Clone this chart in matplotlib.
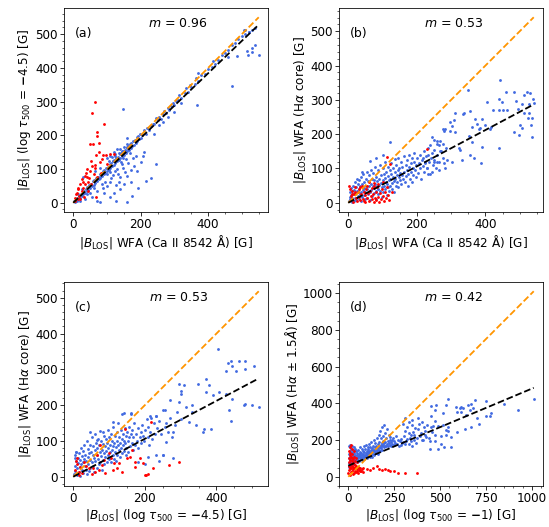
import numpy as np
import matplotlib
matplotlib.use("Agg")
import matplotlib.pyplot as plt
from matplotlib.ticker import AutoMinorLocator

plt.rcParams['font.family'] = ['DejaVu Sans']
plt.rcParams['font.size'] = 12
plt.rcParams['mathtext.default'] = 'it'

BLUE = '#4169E1'
RED = '#FF0000'
ORANGE = '#FF9500'

# ---------------- Panel (a) ----------------
a_blue = [(3,5),(6,2),(8,11),(10,6),(12,15),(15,11),(18,21),(20,15),(22,26),(25,21),(28,31),(30,25),(32,36),(35,29),
          (38,41),(40,35),(42,46),(45,39),(48,53),(50,44),(52,56),(55,49),(58,63),(60,54),(62,66),(65,58),(68,73),(70,64),
          (72,77),(75,69),(78,84),(80,74),(82,86),(85,78),(88,93),(90,84),(92,97),(95,88),(98,104),(100,94),(102,107),(105,98),
          (108,114),(110,103),(112,117),(115,108),(118,124),(120,113),(122,127),(125,118),(128,134),(130,123),(132,137),(135,128),
          (138,144),(140,133),(142,147),(145,138),(148,154),(150,143),(152,157),(155,148),(158,164),(160,152),(162,167),(165,157),
          (168,173),(170,163),(172,177),(175,168),(178,184),(180,172),(182,187),(185,178),(188,194),(190,183),(192,197),(195,188),
          (198,204),(200,193),(105,125),(115,135),(125,140),(135,147),(145,152),(120,150),(110,140),(130,160),(150,165),(160,175),
          (217,65),(192,45),(173,21),(158,1),(128,6),(109,16),(79,1),(70,6),(55,16),(89,45),(109,60),(124,94),(133,85),(138,75),
          (148,104),(119,124),(99,85),(79,75),(60,45),(40,26),(177,134),(207,139),(148,134),(168,148),(139,158),(158,163),(124,144),
          (99,134),(79,104),(65,94),(30,75),(120,30),(140,40),(150,55),(160,80),(100,50),(90,30),(70,35),(180,110),(200,120),
          (190,95),(210,150),(230,72),(244,116),(170,60),(110,90),(145,115),(130,100),(50,30),(35,10),(20,5),(15,25),(25,40),
          (205,200),(210,215),(215,205),(220,222),(225,216),(230,228),(235,232),(240,234),(245,250),(250,244),(255,255),(260,249),
          (265,262),(270,271),(275,266),(280,282),(285,274),(290,288),(295,297),(300,291),(305,303),(310,304),(315,319),(320,311),
          (330,324),(335,341),(340,329),(345,349),(350,344),(360,353),(365,369),(370,361),(380,378),(390,383),(400,398),(410,404),
          (415,419),(420,411),(430,423),(440,437),(450,444),(460,453),(470,467),(480,473),(490,487),(500,494),(505,511),(510,500),
          (520,507),(530,513),(540,519),(146,277),(158,193),(371,384),(366,291),(471,345),(460,432),(487,434),(516,451),(530,458),
          (540,468),(519,439),(550,439),(530,446),(520,505),(510,512),(255,230),(280,255),(300,270),(320,295),(240,205),(265,240),
          (113,72),(127,52),(137,62),(153,90),(163,118),(172,96),(185,140),(95,62),(85,55),(118,82),(142,122),(155,130)]
a_red = [(64,299),(56,266),(91,234),(69,210),(69,199),(50,173),(58,175),(75,176),(75,151),(68,142),(89,141),(84,131),
         (96,142),(52,124),(64,112),(65,104),(50,94),(38,89),(36,80),(42,77),(47,73),(28,60),(21,55),(13,40),(8,26),(18,21),
         (27,35),(13,11),(32,16),(67,16),(52,55),(71,75),(81,89),(101,114),(110,144),(120,144),(5,15),(10,30),(20,10),(30,45),
         (45,60),(60,85),(40,100),(55,110),(80,120),(25,70),(35,55),(15,45),(6,5),(45,35)]
a_m, a_c = 0.96, 0.0

# ---------------- Panel (b) ----------------
b_blue = [(2,5),(4,18),(5,30),(6,10),(8,42),(9,22),(10,3),(11,35),(12,14),(14,50),(15,25),(16,6),(18,38),(19,60),(20,15),
          (21,28),(22,45),(24,8),(25,70),(26,33),(27,20),(28,55),(30,12),(31,40),(32,65),(33,25),(35,48),(36,5),(37,30),(38,75),
          (40,18),(41,55),(42,38),(44,85),(45,22),(46,60),(47,44),(48,10),(50,32),(51,68),(52,50),(54,15),(55,90),(56,40),(57,25),
          (58,62),(60,48),(61,80),(62,30),(63,8),(65,55),(66,95),(67,38),(68,70),(70,20),(71,50),(72,88),(74,42),(75,65),(76,28),
          (77,105),(78,55),(80,35),(81,75),(82,12),(83,48),(85,62),(86,95),(87,40),(88,25),(90,70),(91,52),(92,110),(93,35),(95,80),
          (96,58),(97,18),(98,45),(100,65),(101,100),(102,30),(103,85),(105,50),(106,72),(107,120),(108,40),(110,60),(111,90),
          (112,22),(113,55),(115,78),(116,105),(117,45),(118,65),(120,35),(121,95),(122,70),(123,50),(125,85),(126,115),(127,58),
          (128,40),(130,75),(131,100),(132,62),(133,30),(135,90),(136,128),(137,70),(138,50),(140,110),(141,80),(142,60),(144,95),
          (145,45),(146,130),(147,75),(148,100),(150,65),(152,88),(153,120),(155,55),(156,80),(158,105),(160,70),(162,135),(163,90),
          (165,60),(167,110),(168,78),(170,125),(172,95),(173,50),(175,85),(177,140),(178,105),(180,70),(182,115),(184,90),(185,130),
          (187,60),(188,100),(190,80),(192,145),(193,120),(195,95),(197,75),(198,110),(200,130),(202,88),(205,115),(208,140),(210,100),
          (212,70),(215,125),(218,108),(220,150),(222,90),(225,120),(228,135),(230,100),(233,160),(235,118),(238,85),(240,130),
          (245,145),(248,110),(250,125),(255,100),(258,170),(260,140),(265,118),(270,150),(275,130),(280,210),(285,160),(122,178),
          (62,122),(80,130),(100,140),(40,90),
          (444,358),(348,328),(461,323),(482,322),(522,323),(530,319),(512,313),(539,302),(541,291),(488,296),(449,295),(439,304),
          (405,295),(422,270),(439,271),(451,270),(464,271),(508,288),(527,288),(527,262),(512,263),(494,274),(525,247),(537,247),
          (502,227),(532,227),(507,217),(483,207),(497,197),(537,192),(439,159),(386,115),(356,140),(366,130),(337,262),(356,267),
          (312,262),(334,259),(307,240),(297,235),(283,215),(297,210),(275,215),(302,225),(312,205),(371,245),(390,243),(417,222),
          (400,226),(385,219),(412,214),(376,231),(380,214),(361,222),(351,194),(361,178),(390,163),(327,154),(322,159),(332,125),
          (303,120),(288,125),(281,100),(264,95),(278,115),(259,120),(249,120),(244,90),(234,85),(229,100),(224,115),(219,130),
          (234,140),(249,154),(264,169),(276,170),(268,150),(249,184),(239,169),(244,191),(258,179),(268,179)]
b_red = [(3,48),(5,40),(8,20),(10,10),(12,35),(15,2),(18,25),(20,45),(22,15),(25,5),(28,30),(30,18),(32,40),(35,8),(38,25),
         (40,50),(42,12),(45,32),(48,3),(50,22),(52,40),(55,15),(58,28),(60,5),(62,35),(65,20),(68,10),(70,42),(72,25),(75,3),
         (78,15),(80,30),(82,8),(85,45),(88,18),(90,2),(92,28),(95,12),(98,40),(100,20),(105,5),(108,32),(110,14),(112,45),(115,22),
         (112,134),(120,8),(122,112),(128,30),(76,58),(100,60),(60,60),(229,156),(20,30),(35,45),(10,25),(75,50),(45,5),(55,48),(88,55)]
b_m, b_c = 0.53, 0.0

# ---------------- Panel (c) ----------------
c_blue = [(2,8),(4,30),(5,60),(6,15),(8,45),(9,70),(10,5),(11,25),(12,52),(14,38),(15,12),(16,65),(18,28),(19,48),(20,3),
          (21,80),(22,35),(24,58),(25,18),(26,42),(27,72),(28,10),(30,50),(31,90),(32,30),(33,62),(35,20),(36,45),(37,100),(38,8),
          (40,55),(41,78),(42,35),(44,65),(45,15),(46,88),(47,48),(48,25),(50,70),(51,110),(52,40),(54,60),(55,30),(56,85),(57,52),
          (58,12),(60,75),(61,120),(62,45),(63,95),(65,62),(66,25),(67,80),(68,105),(70,50),(71,35),(72,88),(74,68),(75,128),(76,42),
          (77,100),(78,58),(80,75),(81,20),(82,92),(83,48),(85,115),(86,65),(87,35),(88,85),(90,55),(91,105),(92,72),(93,42),(95,95),
          (96,60),(97,130),(98,80),(100,50),(101,110),(102,68),(103,90),(105,40),(106,120),(107,75),(108,100),(110,60),(111,85),
          (112,140),(113,50),(115,95),(116,70),(117,115),(118,45),(120,82),(121,125),(122,100),(123,62),(125,90),(126,150),(127,75),
          (128,110),(130,55),(131,95),(132,130),(133,80),(135,105),(136,65),(137,175),(138,118),(140,88),(141,100),(142,72),
          (144,135),(145,95),(146,60),(147,115),(148,80),(150,125),(152,100),(153,70),(155,140),(156,110),(158,85),(160,120),
          (162,178),(163,95),(165,130),(167,75),(168,110),(170,150),(172,90),(175,118),(177,100),(180,135),(182,80),(185,110),
          (188,125),(190,95),(192,145),(195,115),(198,100),(200,130),(205,160),(208,110),(210,140),(212,90),(215,125),(218,165),
          (220,105),(225,150),(228,120),(230,170),(235,135),(240,155),(245,120),(250,185),(255,140),(260,150),(265,125),(270,165),
          (275,110),(285,145),(290,180),(300,160),(180,40),(200,35),(210,55),(230,60),(240,45),(250,60),(142,179),(162,176),
          (111,153),(83,125),(65,102),(9,69),(5,51),(46,125),
          (405,358),(431,318),(440,324),(463,324),(479,322),(506,310),(444,310),(426,296),(454,296),(481,301),(370,273),(380,255),
          (370,236),(347,259),(310,255),(296,259),(301,231),(296,208),(269,213),(255,185),(231,171),(213,171),(389,227),(407,236),
          (426,231),(444,218),(481,204),(500,199),(518,194),(477,199),(435,185),(440,157),(384,134),(366,134),(361,125),(343,144),
          (324,153),(333,181),(315,194),(278,125),(259,97),(250,60),(278,51),(333,199),(301,240)]
c_red = [(144,132),(217,152),(11,51),(30,42),(20,28),(16,14),(44,23),(53,9),(62,14),(71,19),(81,32),(85,46),(104,51),(99,65),
         (113,37),(122,23),(136,14),(127,37),(150,51),(159,55),(164,74),(173,42),(173,28),(187,51),(196,37),(201,5),(210,9),
         (266,32),(296,42),(222,23),(204,5),(67,60),(76,88),(5,20),(10,35),(15,5),(25,10),(8,45),(35,30),(55,25),(90,10),(110,20)]
c_m, c_c = 0.53, 0.0

# ---------------- Panel (d) ----------------
d_blue = [(2,55),(3,100),(4,170),(5,75),(6,125),(7,160),(8,90),(9,140),(10,60),(11,115),(12,175),(13,80),(14,130),(15,95),
          (16,150),(17,65),(18,110),(20,85),(21,135),(22,165),(23,100),(25,72),(26,120),(27,145),(28,90),(30,110),(31,160),(32,78),
          (33,130),(35,100),(36,150),(37,85),(38,120),(40,95),(42,140),(44,110),(45,80),(46,130),(48,100),(50,118),(52,90),(54,145),
          (55,105),(56,125),(58,85),(60,115),(62,135),(64,100),(65,160),(66,120),(68,95),(70,130),(72,110),(74,150),(75,90),(76,120),
          (78,140),(80,105),(82,125),(84,170),(85,115),(86,95),(88,135),(90,120),(92,150),(94,105),(95,130),(96,175),(98,115),
          (100,140),(102,125),(104,100),(105,160),(106,135),(108,115),(110,150),(112,125),(114,180),(115,140),(116,110),(118,130),
          (120,160),(122,120),(124,145),(125,190),(126,130),(128,110),(130,155),(132,135),(134,170),(135,125),(136,145),(138,200),
          (140,140),(142,120),(144,160),(145,135),(146,185),(148,150),(150,130),(152,170),(154,145),(155,210),(156,160),(158,140),
          (160,180),(162,125),(164,155),(165,230),(166,170),(168,145),(170,190),(172,160),(174,250),(175,140),(176,175),(178,210),
          (180,155),(182,185),(184,165),(185,270),(186,145),(188,195),(190,175),(192,220),(194,160),(195,280),(196,185),(198,170),
          (200,240),(202,190),(205,165),(208,210),(210,180),(212,260),(215,195),(218,170),(220,225),(222,185),(225,200),(228,175),
          (230,215),(232,190),(235,165),(238,200),(240,180),(245,210),(248,175),(250,195),(255,185),(260,220),(265,180),(270,200),
          (275,170),(280,195),(285,175),(290,205),(295,185),(300,190),(310,178),(320,205),(330,180),(340,195),(350,170),(360,200),
          (370,185),
          (1011,422),(927,363),(848,395),(752,411),(692,421),(670,399),(652,390),(680,375),(661,363),(543,426),(534,390),(471,363),
          (480,390),(453,385),(516,348),(589,381),(607,375),(616,381),(625,372),(616,354),(592,354),(643,336),(703,318),(710,287),
          (667,269),(594,242),(634,258),(543,249),(534,228),(558,218),(562,164),(522,164),(507,177),(489,151),(475,195),(507,222),
          (471,225),(471,303),(462,276),(453,271),(457,246),(453,332),(489,277),(444,195),(444,151),(516,282),(543,273),(534,255),
          (770,332),(779,345),(752,330),(310,320),(330,300),(350,280),(380,260),(400,300),(420,250),(330,240),(360,230),(390,220),
          (410,200),(430,280),(310,250),(300,290),(320,270),(340,230),(380,320),(400,200),(420,230),(350,310),(440,210),(305,220),
          (315,195),(335,210),(355,245),(375,210),(395,240),(415,270),(425,215),(365,265),(385,290)]
d_red = [(1,20),(2,60),(3,100),(4,140),(5,35),(6,80),(7,120),(8,160),(9,50),(10,10),(11,90),(12,130),(13,70),(14,25),(15,110),
         (16,175),(17,45),(18,85),(19,150),(20,60),(21,30),(22,100),(23,125),(24,75),(25,15),(26,55),(27,95),(28,40),(29,140),
         (30,70),(31,20),(32,110),(33,50),(34,85),(35,30),(36,65),(38,45),(40,100),(42,25),(44,60),(46,40),(48,80),(50,30),(52,55),
         (55,20),(58,45),(60,35),(65,50),(70,30),(75,40),(80,25),(82,47),(100,43),(118,38),(136,47),(154,56),(199,43),(217,34),
         (230,29),(248,29),(272,23),(308,20),(375,20),(63,29),(165,40),(185,35)]
d_m, d_c = 0.42, 60.0

panels = [
    ("(a)", a_blue, a_red, a_m, a_c, r"$|B_{\rm LOS}|$ WFA (Ca II 8542 Å) [G]",
     r"$|B_{\rm LOS}|$ (log $\tau_{500}$ = $\mathbf{-}$4.5) [G]"),
    ("(b)", b_blue, b_red, b_m, b_c, r"$|B_{\rm LOS}|$ WFA (Ca II 8542 Å) [G]",
     r"$|B_{\rm LOS}|$ WFA (H$\alpha$ core) [G]"),
    ("(c)", c_blue, c_red, c_m, c_c, r"$|B_{\rm LOS}|$ (log $\tau_{500}$ = $\mathbf{-}$4.5) [G]",
     r"$|B_{\rm LOS}|$ WFA (H$\alpha$ core) [G]"),
    ("(d)", d_blue, d_red, d_m, d_c, r"$|B_{\rm LOS}|$ (log $\tau_{500}$ = $\mathbf{-}$1) [G]",
     r"$|B_{\rm LOS}|$ WFA (H$\alpha$ $\pm$ 1.5$\mathit{Å}$) [G]"),
]

W, H = 549, 527
fig = plt.figure(figsize=(W / 72, H / 72), dpi=72)
boxes = [(64, 8), (339, 8), (64, 282), (339, 282)]
aw, ah = 204, 204

for (tag, blue, red, m, c, xl, yl), (l, t) in zip(panels, boxes):
    ax = fig.add_axes([l / W, (H - t - ah) / H, aw / W, ah / H])
    bx, by = np.array(blue, float).T
    rx, ry = np.array(red, float).T
    ax.scatter(bx, by, s=8, c=BLUE, marker='o', linewidths=0, zorder=2)
    ax.scatter(rx, ry, s=8, c=RED, marker='o', linewidths=0, zorder=3)
    xmax = max(bx.max(), rx.max())
    xs = np.array([0.0, xmax])
    ax.plot(xs, xs, ls='--', color=ORANGE, lw=1.8, zorder=4)
    ax.plot(xs, m * xs + c, ls='--', color='black', lw=1.8, zorder=5)
    ax.text(0.055, 0.875, tag, transform=ax.transAxes, fontsize=12.5, va='center', ha='left')
    ax.text(0.56, 0.925, r"$m$ = %.2f" % m, transform=ax.transAxes, fontsize=12.5, va='center', ha='center')
    ax.set_xlabel(xl, fontsize=12, labelpad=2)
    ax.set_ylabel(yl, fontsize=12, labelpad=2)
    ax.xaxis.set_minor_locator(AutoMinorLocator())
    ax.yaxis.set_minor_locator(AutoMinorLocator())
    ax.tick_params(which='major', length=4, width=0.8, labelsize=12, pad=2)
    ax.tick_params(which='minor', length=2, width=0.6)
    for s in ax.spines.values():
        s.set_linewidth(0.8)

fig.savefig("out.png", dpi=72)
